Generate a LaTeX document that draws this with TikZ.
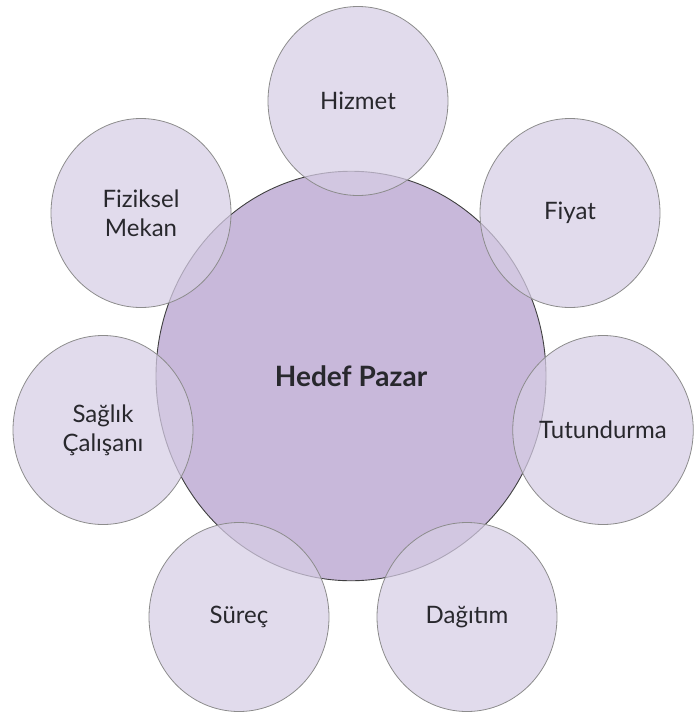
\documentclass[tikz,border=0pt]{standalone}
\usepackage{fontspec}
\setmainfont{Lato}
\usetikzlibrary{shapes.geometric}
\definecolor{hubfill}{RGB}{200,184,218}
\definecolor{spokefill}{RGB}{214,205,229}
\definecolor{labeltext}{RGB}{40,40,45}

\begin{document}
\begin{tikzpicture}[x=1pt, y=-1pt,
    % Circle styles
    hub/.style={ellipse, fill=hubfill, draw=black!75, line width=0.9pt,
        minimum width=2*\hubradius, minimum height=2.1*\hubradius, inner sep=0pt},
    spoke/.style={ellipse, fill=spokefill, fill opacity=0.72, text opacity=1,
        draw=black!45, line width=0.8pt, minimum width=2*\spokeradius,
        minimum height=2.1*\spokeradius, inner sep=0pt},
    % Label styles
    hubtext/.style={font=\bfseries\fontsize{28}{32}\selectfont, text=labeltext},
    spoketext/.style={font=\fontsize{24}{29}\selectfont, text=labeltext, align=center},
]

\useasboundingbox (0,0) rectangle (694,715);

% Define circle centers
\coordinate (hub-center) at (351, 376);
\coordinate (hizmet-center) at (358, 101);
\coordinate (fiyat-center) at (570, 213);
\coordinate (tutundurma-center) at (603, 430);
\coordinate (dagitim-center) at (467, 617);
\coordinate (surec-center) at (239, 617);
\coordinate (saglik-center) at (103, 430);
\coordinate (fiziksel-center) at (141, 213);
\def\hubradius{195pt}
\def\spokeradius{90pt}

% Central circle
\node[hub, hubtext] (hedef) at (hub-center) {Hedef Pazar};

% Surrounding circles
\node[spoke, spoketext] (hizmet) at (hizmet-center) {Hizmet};
\node[spoke, spoketext] (fiyat) at (fiyat-center) {Fiyat};
\node[spoke, spoketext] (tutundurma) at (tutundurma-center) {Tutundurma};
\node[spoke, spoketext] (dagitim) at (dagitim-center) {Dağıtım};
\node[spoke, spoketext] (surec) at (surec-center) {Süreç};
\node[spoke, spoketext] (saglik) at (saglik-center) {Sağlık\\Çalışanı};
\node[spoke, spoketext] (fiziksel) at (fiziksel-center) {Fiziksel\\Mekan};

\end{tikzpicture}
\end{document}
